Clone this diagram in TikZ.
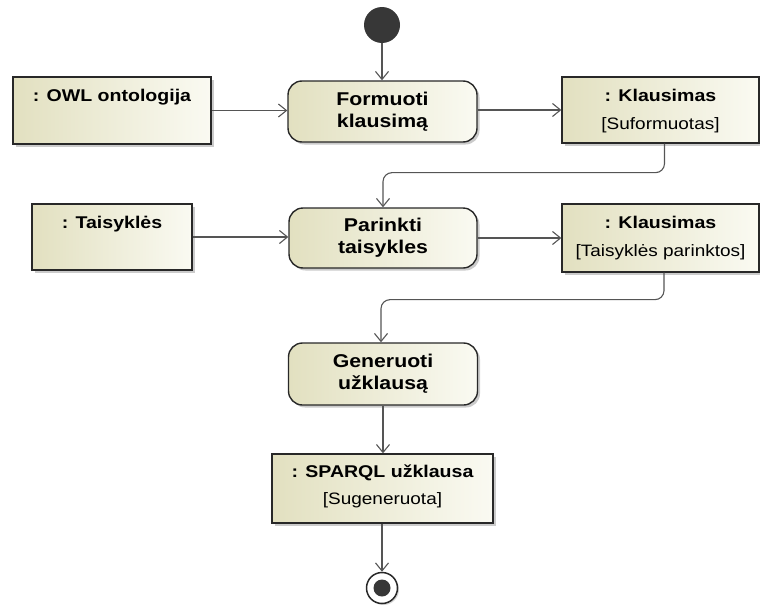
\documentclass[tikz,border=0pt]{standalone}
\usepackage{fontspec}
\setmainfont{Liberation Sans}[FakeStretch=1.15]
\usetikzlibrary{arrows.meta,shadows}

\definecolor{boxL}{RGB}{226,224,192}
\definecolor{boxR}{RGB}{250,250,242}
\definecolor{edge}{RGB}{40,40,40}
\definecolor{flowc}{RGB}{85,85,85}
\definecolor{dot}{RGB}{55,55,55}

\tikzset{
  x=1pt, y=1pt,
  shade/.style={left color=boxL, right color=boxR,
    drop shadow={shadow xshift=2.5pt, shadow yshift=-2.5pt, fill=black!45, opacity=.45}},
  action/.style={shade, draw=edge, line width=1.4pt, rectangle, rounded corners=14pt,
    align=center, font=\fontsize{18.5}{22}\selectfont\bfseries, inner sep=0pt},
  objbox/.style={shade, draw=edge, line width=1.3pt, rectangle, inner sep=0pt},
  objtitle/.style={anchor=base, font=\fontsize{17}{20}\selectfont\bfseries, inner sep=0pt},
  objstate/.style={anchor=base, font=\fontsize{16.5}{20}\selectfont, inner sep=0pt},
  flow/.style={draw=flowc, line width=1.1pt,
    -{Straight Barb[length=8pt,width=13pt,line width=1.1pt]}},
}

\begin{document}
\begin{tikzpicture}
\useasboundingbox (0,0) rectangle (760,-605);

% start and end
\node[circle, fill=dot, minimum size=36pt, inner sep=0pt] (init) at (382,-25) {};
\node[circle, draw=edge, fill=white, line width=1.5pt, minimum size=31pt, inner sep=0pt,
      drop shadow={shadow xshift=1.5pt, shadow yshift=-1.5pt, fill=black!40, opacity=.4}] (fin) at (382,-588) {};
\node[circle, fill=dot, minimum size=17pt, inner sep=0pt] (finc) at (fin) {};

% actions
\node[action, minimum width=189pt, minimum height=61pt] (f1) at (382.5,-111.5) {Formuoti\\klausimą};
\node[action, minimum width=188pt, minimum height=60pt] (p2) at (383,-238) {Parinkti\\taisykles};
\node[action, minimum width=189pt, minimum height=62pt] (gen) at (383,-374) {Generuoti\\užklausą};

% object nodes
\node[objbox, minimum width=198pt, minimum height=67pt] (owl) at (112,-110.5) {};
\node[objtitle] (owlt) at ([yshift=-25pt]owl.north) {: OWL ontologija};

\node[objbox, minimum width=197pt, minimum height=66pt] (k1) at (660.5,-110) {};
\node[objtitle] (k1t) at ([yshift=-25pt]k1.north) {: Klausimas};
\node[objstate] (k1s) at ([yshift=-53pt]k1.north) {[Suformuotas]};

\node[objbox, minimum width=160pt, minimum height=66pt] (tais) at (112,-237) {};
\node[objtitle] (taist) at ([yshift=-25pt]tais.north) {: Taisyklės};

\node[objbox, minimum width=197pt, minimum height=68pt] (k2) at (660.5,-238) {};
\node[objtitle] (k2t) at ([yshift=-25pt]k2.north) {: Klausimas};
\node[objstate] (k2s) at ([yshift=-53pt]k2.north) {[Taisyklės parinktos]};

\node[objbox, minimum width=221pt, minimum height=69pt] (sp) at (382.5,-488.5) {};
\node[objtitle] (spt) at ([yshift=-24pt]sp.north) {: SPARQL užklausa};
\node[objstate] (sps) at ([yshift=-51pt]sp.north) {[Sugeneruota]};

% control and object flows
\draw[flow] (init) -- (f1.north -| init);
\draw[flow] (owl.east) -- (f1.west |- owl.east);
\draw[flow] (f1.east |- k1.west) -- (k1.west);
\draw[flow, rounded corners=9pt] ([xshift=4pt]k1.south) -- ++(0,-29) -| (p2.north);
\draw[flow] (tais.east) -- (p2.west |- tais.east);
\draw[flow] (p2.east) -- (k2.west |- p2.east);
\draw[flow, rounded corners=9pt] ([xshift=3.5pt]k2.south) -- ++(0,-27) -| ([xshift=-2pt]gen.north);
\draw[flow] (gen.south) -- (sp.north -| gen.south);
\draw[flow] (sp.south -| fin) -- (fin.north);
\end{tikzpicture}
\end{document}
